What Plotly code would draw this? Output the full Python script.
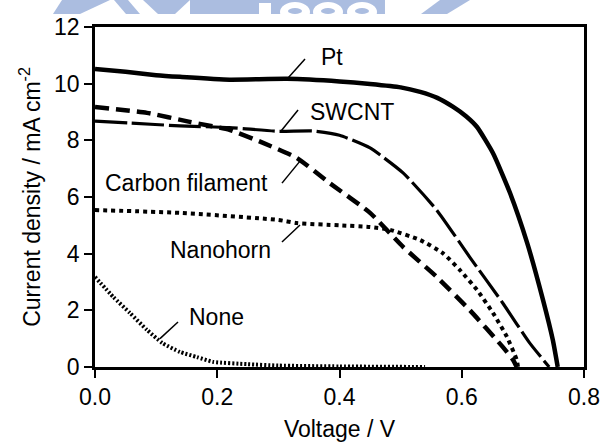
import plotly.graph_objects as go

# ---------------- data ----------------
pt_v = [0.0, 0.05, 0.1, 0.139, 0.22, 0.314, 0.4, 0.45, 0.5, 0.532, 0.56, 0.586, 0.607, 0.625, 0.651, 0.679, 0.707, 0.733, 0.749, 0.757]
pt_j = [10.52, 10.42, 10.3, 10.24, 10.14, 10.17, 10.08, 9.99, 9.87, 9.71, 9.5, 9.18, 8.85, 8.47, 7.55, 6.14, 4.38, 2.36, 0.95, 0.0]

sw_v = [0.0, 0.057, 0.139, 0.22, 0.30, 0.357, 0.40, 0.45, 0.504, 0.559, 0.613, 0.667, 0.711, 0.743]
sw_j = [8.68, 8.61, 8.51, 8.45, 8.32, 8.33, 8.18, 7.73, 6.85, 5.54, 3.88, 2.26, 0.85, 0.0]

cf_v = [0.0, 0.085, 0.155, 0.22, 0.275, 0.33, 0.384, 0.45, 0.504, 0.559, 0.613, 0.667, 0.684, 0.69]
cf_j = [9.18, 8.97, 8.65, 8.37, 7.91, 7.38, 6.49, 5.44, 4.24, 3.18, 2.01, 0.71, 0.25, 0.0]

nh_v = [0.0, 0.139, 0.30, 0.33, 0.40, 0.45, 0.483, 0.532, 0.569, 0.597, 0.625, 0.651, 0.674, 0.69, 0.692]
nh_j = [5.54, 5.44, 5.19, 5.08, 5.0, 4.94, 4.84, 4.48, 4.02, 3.42, 2.72, 1.91, 1.06, 0.25, 0.0]

no_v = [0.0, 0.03, 0.057, 0.085, 0.11, 0.139, 0.167, 0.193, 0.25, 0.3, 0.4, 0.54]
no_j = [3.18, 2.47, 1.91, 1.31, 0.85, 0.53, 0.35, 0.18, 0.1, 0.05, 0.02, 0.0]

x_ticks = [0.0, 0.2, 0.4, 0.6, 0.8]
y_ticks = [0, 2, 4, 6, 8, 10, 12]

labels = ["Pt", "SWCNT", "Carbon filament", "Nanohorn", "None"]

FONT = "Liberation Sans, Arial, Helvetica, sans-serif"

fig = go.Figure()
fig.add_trace(go.Scatter(x=pt_v, y=pt_j, mode="lines", line=dict(color="black", width=4.5, shape="spline", smoothing=0.5)))
fig.add_trace(go.Scatter(x=sw_v, y=sw_j, mode="lines", line=dict(color="black", width=3.2, dash="32px,5px", shape="spline", smoothing=0.5)))
fig.add_trace(go.Scatter(x=cf_v, y=cf_j, mode="lines", line=dict(color="black", width=4.5, dash="14px,7px", shape="spline", smoothing=0.5)))
fig.add_trace(go.Scatter(x=nh_v, y=nh_j, mode="lines", line=dict(color="black", width=4, dash="4px,4px", shape="spline", smoothing=0.5)))
fig.add_trace(go.Scatter(x=no_v, y=no_j, mode="lines", line=dict(color="black", width=4, dash="2px,2px", shape="spline", smoothing=0.5)))

# curve labels and leader lines
lab_pos = [(0.388, 10.94), (0.42, 9.0), (0.15, 6.5), (0.2045, 4.13), (0.198, 1.76)]
leaders = [((0.3158, 10.20), (0.3436, 10.87)),
           ((0.3044, 8.33), (0.3322, 9.07)),
           ((0.3059, 6.49), (0.3370, 7.31)),
           ((0.3059, 4.41), (0.3354, 5.01)),
           ((0.1063, 1.0), (0.1358, 1.59))]
for t, (lx, ly) in zip(labels, lab_pos):
    fig.add_annotation(x=lx, y=ly, xref="x", yref="y", text=t, showarrow=False,
                       font=dict(family=FONT, size=23, color="black"))
for (a, b) in leaders:
    fig.add_shape(type="line", xref="x", yref="y", x0=a[0], y0=a[1], x1=b[0], y1=b[1],
                  line=dict(color="black", width=1.5))

# faint watermark at the top (pixel -> paper conversion)
W, H = 606, 447
L, R, T, B = 95, 22, 27, 80
pw, ph = W - L - R, H - T - B
def px(x):
    return (x - L) / pw
def py(y):
    return (H - B - y) / ph
def poly(pts):
    return "M " + " L ".join(f"{px(a):.4f},{py(b):.4f}" for a, b in pts) + " Z"
WM = "#abbde0"
for pts in [[(53, 14), (80, 14), (110, 0), (62, 0)],
            [(114, 0), (128, 0), (140, 14), (126, 14)],
            [(143, 0), (190, 0), (175, 14), (158, 14)],
            [(190, 0), (385, 0), (385, 14), (190, 14)],
            [(440, 0), (470, 0), (447, 14), (421, 14)]]:
    fig.add_shape(type="path", xref="paper", yref="paper", path=poly(pts),
                  fillcolor=WM, line=dict(width=0), layer="above")
# digits "1896" knocked out in white
fig.add_shape(type="rect", xref="paper", yref="paper", x0=px(259), x1=px(271), y0=py(14), y1=py(3),
              fillcolor="white", line=dict(width=0))
for (x0, x1) in [(280, 310), (313, 343), (347, 377)]:
    fig.add_shape(type="circle", xref="paper", yref="paper", x0=px(x0), x1=px(x1), y0=py(22), y1=py(2),
                  fillcolor="white", line=dict(width=0))
    fig.add_shape(type="circle", xref="paper", yref="paper", x0=px(x0 + 8), x1=px(x1 - 8), y0=py(14), y1=py(8),
                  fillcolor=WM, line=dict(width=0))

axis_common = dict(showline=True, linecolor="black", linewidth=2.5, mirror=True,
                   ticks="outside", ticklen=8, tickwidth=2, tickcolor="black",
                   showgrid=False, zeroline=False, automargin=False,
                   tickfont=dict(family=FONT, size=23, color="black"))
fig.update_xaxes(range=[0, 0.8], tickvals=x_ticks, ticktext=[f"{v:.1f}" for v in x_ticks],
                 title=dict(text="Voltage / V", font=dict(family=FONT, size=23, color="black"), standoff=12),
                 **axis_common)
fig.update_yaxes(range=[0, 12], tickvals=y_ticks, ticktext=[str(v) for v in y_ticks],
                 title=dict(text="Current density / mA cm<sup>-2</sup>", font=dict(family=FONT, size=23, color="black"), standoff=8),
                 **axis_common)
fig.update_layout(width=W, height=H, margin=dict(l=L, r=R, t=T, b=B, autoexpand=False),
                  plot_bgcolor="white", paper_bgcolor="white", showlegend=False)
fig.write_html("out.html")
